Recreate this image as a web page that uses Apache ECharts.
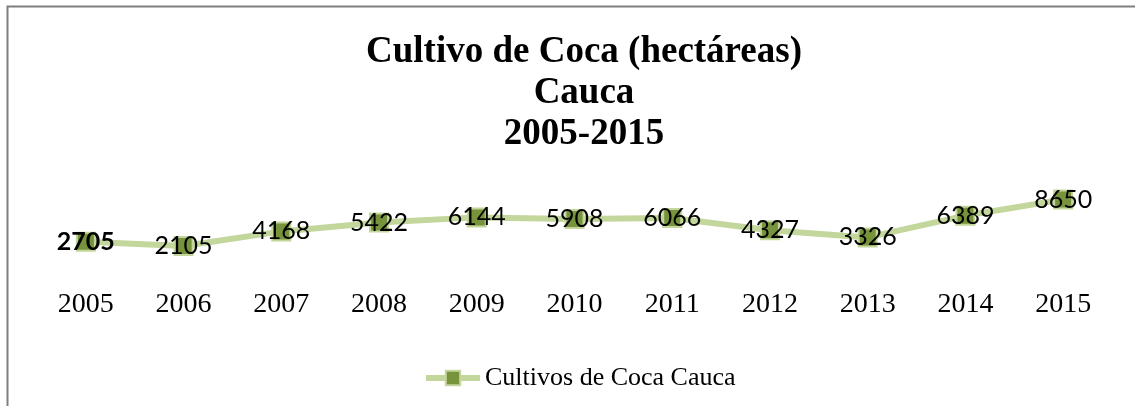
<!DOCTYPE html>
<html>
<head>
	<meta charset="UTF-8">
	<title>Cultivo de Coca Cauca</title>
	<script src="https://cdn.jsdelivr.net/npm/echarts@6/dist/echarts.min.js"></script>
	<style type="text/css">
		html, body { margin: 0; padding: 0; background: #fff; }
		#chart { width: 1135px; height: 406px; }
	</style>
</head>
<body>
	<div id="chart"></div>
<script type="text/javascript">
var years = ['2005', '2006', '2007', '2008', '2009', '2010', '2011', '2012', '2013', '2014', '2015'];
var hectareas = [2705, 2105, 4168, 5422, 6144, 5908, 6066, 4327, 3326, 6389, 8650];
var seriesName = 'Cultivos de Coca Cauca';

var chart = echarts.init(document.getElementById('chart'));

// primer punto con etiqueta en negrita
var points = hectareas.map(function (v, i) {
	if (i === 0) {
		return { value: v, label: { fontWeight: 'bold' } };
	}
	return v;
});

var option = {
	backgroundColor: '#ffffff',
	animation: false,
	graphic: [{
		type: 'rect',
		shape: { x: 7.5, y: 6.5, width: 1300, height: 600 },
		style: { fill: 'none', stroke: '#7f7f7f', lineWidth: 2 }
	}],
	title: {
		text: 'Cultivo de Coca (hectáreas)\nCauca\n2005-2015',
		left: 579,
		top: 27,
		textAlign: 'center',
		textStyle: {
			fontFamily: 'Liberation Serif',
			fontWeight: 'bold',
			fontSize: 37,
			lineHeight: 41,
			color: '#000'
		}
	},
	legend: {
		data: [seriesName],
		left: 418,
		top: 360,
		itemWidth: 54,
		itemHeight: 18,
		itemGap: 6,
		lineStyle: { width: 6, color: '#C3D69B' },
		textStyle: {
			fontFamily: 'Liberation Serif',
			fontSize: 26,
			color: '#000'
		}
	},
	grid: {
		left: 37,
		right: 23,
		top: 190,
		bottom: 145
	},
	xAxis: {
		type: 'category',
		data: years,
		axisLine: { show: false },
		axisTick: { show: false },
		axisLabel: {
			margin: 30,
			fontFamily: 'Liberation Serif',
			fontSize: 28,
			color: '#000'
		}
	},
	yAxis: {
		type: 'value',
		min: 0,
		max: 10000,
		show: false,
		splitLine: { show: false }
	},
	series: [{
		name: seriesName,
		type: 'line',
		data: points,
		symbol: 'rect',
		symbolSize: 18,
		lineStyle: { color: '#C3D69B', width: 6 },
		itemStyle: { color: '#77933C', borderColor: '#C3D69B', borderWidth: 2 },
		label: {
			show: true,
			position: 'inside',
			fontFamily: 'Lato',
			fontSize: 25,
			color: '#000'
		}
	}]
};
chart.setOption(option);
</script>
</body>
</html>
